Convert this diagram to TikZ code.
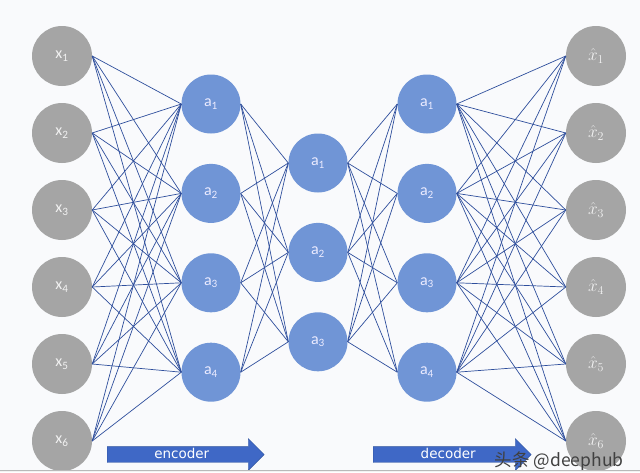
\documentclass[tikz,border=0pt]{standalone}
\usepackage{fontspec}
\setmainfont{Carlito}
\newfontfamily\arrowfont{DejaVu Sans}
\newfontfamily\cjkfont{Noto Sans CJK SC}
\usepackage{xcolor}
\definecolor{gry00}{HTML}{A5A5A5}
\definecolor{blu00}{HTML}{7095D6}
\definecolor{lin00}{HTML}{2E4E9C}
\definecolor{arr00}{HTML}{3F68C6}
\definecolor{arr01}{HTML}{2F539E}
\definecolor{bg00}{HTML}{F9FAFC}
\usepackage{tikz}
\usetikzlibrary{positioning}
\usetikzlibrary{shapes.arrows}
\tikzstyle{in_unit} = [circle, minimum size=60pt, inner sep=0pt, fill=gry00, text=white!95!black, font=\fontsize{16}{16}\selectfont]
\tikzstyle{out_unit} = [in_unit, font=\fontsize{18}{18}\selectfont]
\tikzstyle{hid_unit} = [circle, minimum size=59pt, inner sep=0pt, fill=blu00, text=white!92!blue, font=\fontsize{16}{16}\selectfont]
\tikzstyle{edge_line} = [lin00, line width=0.7pt]
\tikzstyle{flow_arrow} = [single arrow, single arrow head extend=8pt, minimum height=157pt, inner ysep=2.5pt, text height=9pt, text depth=1.5pt, fill=arr00, draw=arr01, text=white, font=\arrowfont\fontsize{13.5}{14}\selectfont, anchor=west]

\begin{document}
\begin{tikzpicture}[x=1pt,y=-1pt]
        \fill[bg00] (0,0) rectangle (640,472);
        \useasboundingbox (0,0) rectangle (640,472);
        % input layer
        \node (in1)[in_unit] at (62,56){x\textsubscript{1}};
        \node (in2)[in_unit,below=16.6pt of in1]{x\textsubscript{2}};
        \node (in3)[in_unit,below=16.6pt of in2]{x\textsubscript{3}};
        \node (in4)[in_unit,below=16.6pt of in3]{x\textsubscript{4}};
        \node (in5)[in_unit,below=16.6pt of in4]{x\textsubscript{5}};
        \node (in6)[in_unit,below=16.6pt of in5]{x\textsubscript{6}};
        % encoder layer
        \node (enc1)[hid_unit] at (211,104){a\textsubscript{1}};
        \node (enc2)[hid_unit,below=30pt of enc1]{a\textsubscript{2}};
        \node (enc3)[hid_unit,below=30pt of enc2]{a\textsubscript{3}};
        \node (enc4)[hid_unit,below=30pt of enc3]{a\textsubscript{4}};
        % code layer
        \node (mid1)[hid_unit] at (318,163){a\textsubscript{1}};
        \node (mid2)[hid_unit,below=30pt of mid1]{a\textsubscript{2}};
        \node (mid3)[hid_unit,below=30pt of mid2]{a\textsubscript{3}};
        % decoder layer
        \node (dec1)[hid_unit] at (427,104){a\textsubscript{1}};
        \node (dec2)[hid_unit,below=30pt of dec1]{a\textsubscript{2}};
        \node (dec3)[hid_unit,below=30pt of dec2]{a\textsubscript{3}};
        \node (dec4)[hid_unit,below=30pt of dec3]{a\textsubscript{4}};
        % output layer
        \node (out1)[out_unit] at (596,56){$\hat{x}_1$};
        \node (out2)[out_unit,below=16.6pt of out1]{$\hat{x}_2$};
        \node (out3)[out_unit,below=16.6pt of out2]{$\hat{x}_3$};
        \node (out4)[out_unit,below=16.6pt of out3]{$\hat{x}_4$};
        \node (out5)[out_unit,below=16.6pt of out4]{$\hat{x}_5$};
        \node (out6)[out_unit,below=16.6pt of out5]{$\hat{x}_6$};
        % weights
        \foreach \i in {1,...,6} \foreach \j in {1,...,4} \draw [edge_line] (in\i.east) -- (enc\j.west);
        \foreach \i in {1,...,4} \foreach \j in {1,...,3} \draw [edge_line] (enc\i.east) -- (mid\j.west);
        \foreach \i in {1,...,3} \foreach \j in {1,...,4} \draw [edge_line] (mid\i.east) -- (dec\j.west);
        \foreach \i in {1,...,4} \foreach \j in {1,...,6} \draw [edge_line] (dec\i.east) -- (out\j.west);
        % arrows
        \node (encarr)[flow_arrow] at (107,454.5){encoder};
        \node (decarr)[flow_arrow,minimum height=158pt] at (373,454.5){decoder};
        \fill[gray!10] (0,470) rectangle (640,472);
        \draw[gray!55,line width=0.8pt] (0,470) -- (640,470);
        \node (mark)[anchor=base east, text=black!75, font=\cjkfont\fontsize{17.5}{17.5}\selectfont] at (627,466){头条 @deephub};
\end{tikzpicture}
\end{document}
